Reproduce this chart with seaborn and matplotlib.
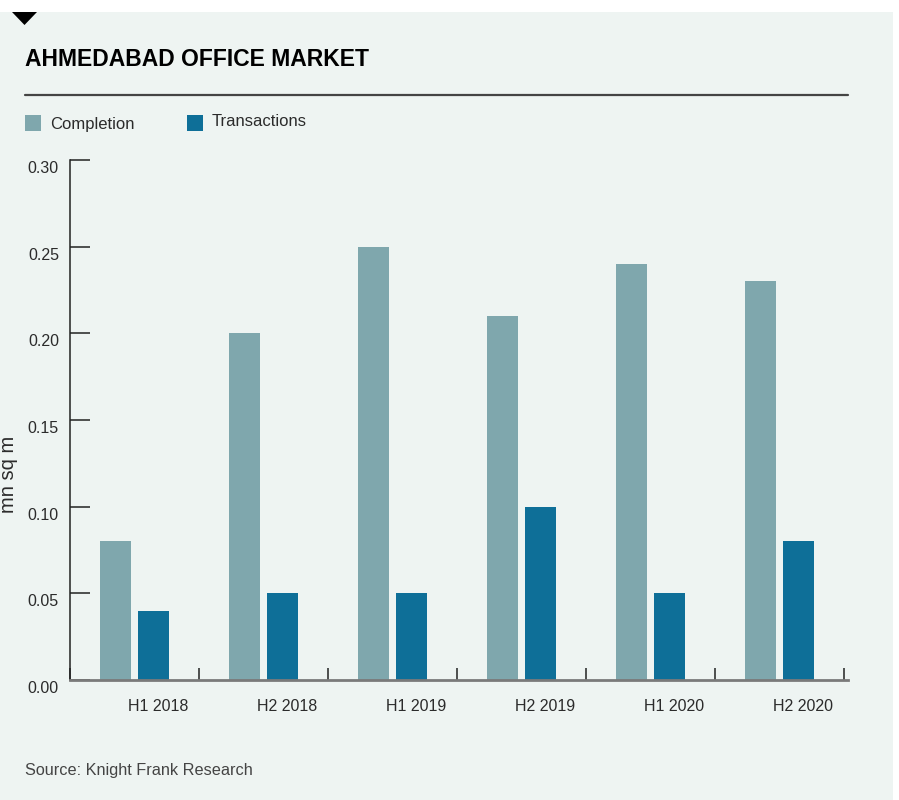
import matplotlib
matplotlib.use("Agg")
import matplotlib.pyplot as plt
from matplotlib.patches import Rectangle, Polygon
from matplotlib.lines import Line2D
import matplotlib.transforms as mtransforms
import seaborn as sns
import pandas as pd
import numpy as np

# Half-yearly office market figures (mn sq m)
periods = ["H1 2018", "H2 2018", "H1 2019", "H2 2019", "H1 2020", "H2 2020"]
completion = [0.08, 0.20, 0.25, 0.21, 0.24, 0.23]
transactions = [0.04, 0.05, 0.05, 0.10, 0.05, 0.08]
series_names = ["Completion", "Transactions"]
y_ticks = [0.00, 0.05, 0.10, 0.15, 0.20, 0.25, 0.30]

COL_COMPLETION = "#7FA7AD"
COL_TRANSACTIONS = "#0E6F98"
PANEL = "#EEF4F2"
TEXT = "#2b2b2b"

df = pd.DataFrame({
    "period": periods * 2,
    "series": [series_names[0]] * len(periods) + [series_names[1]] * len(periods),
    "value": completion + transactions,
})

sns.set_theme(style="white")
plt.rcParams["font.family"] = ["Liberation Sans", "DejaVu Sans"]

W, H = 899, 800
fig = plt.figure(figsize=(W / 100, H / 100), dpi=100)
fig.patch.set_facecolor("white")

def fx(px):
    return px / W

def fy(py):
    return 1 - py / H

# light panel behind everything
fig.patches.append(Rectangle((0, 0), fx(893), fy(12), transform=fig.transFigure,
                             facecolor=PANEL, edgecolor="none", zorder=-10))
# small marker triangle at top-left
fig.patches.append(Polygon([(fx(12), fy(12)), (fx(37), fy(12)), (fx(24.5), fy(25))],
                           closed=True, transform=fig.transFigure,
                           facecolor="black", edgecolor="none", zorder=1))

ax = fig.add_axes([fx(70), fy(680), fx(848) - fx(70), fy(160) - fy(680)])
ax.set_facecolor("none")

sns.barplot(data=df, x="period", y="value", hue="series", order=periods,
            hue_order=series_names, palette=[COL_COMPLETION, COL_TRANSACTIONS],
            width=0.6, gap=0.2, saturation=1, legend=False, ax=ax, zorder=2,
            linewidth=0, edgecolor="none")

ax.set_ylim(0, 0.30)
ax.set_xlim(-0.5, 5.53)
ax.set_xlabel("")
ax.set_ylabel("")

# y axis: inward ticks, labels sitting slightly below their ticks
ax.set_yticks(y_ticks)
ax.set_yticklabels([f"{t:.2f}" for t in y_ticks], color=TEXT, fontsize=11.5)
ax.tick_params(axis="y", direction="in", length=14.4, width=1.1, color="#222222",
               pad=8, left=True)
shift_down = mtransforms.ScaledTranslation(0, -7 / 100, fig.dpi_scale_trans)
for lbl in ax.get_yticklabels():
    lbl.set_transform(lbl.get_transform() + shift_down)

# x axis: boundary ticks, labels set under each group
bounds = np.arange(-0.5, len(periods), 1.0)
ax.set_xticks(bounds)
ax.set_xticklabels([""] * len(bounds))
ax.set_xticks(np.arange(len(periods)) + 0.18, minor=True)
ax.set_xticklabels(periods, minor=True, color=TEXT, fontsize=11.5)
ax.tick_params(axis="x", which="major", direction="in", length=8.6, width=1.1,
               color="#222222", bottom=True)
ax.tick_params(axis="x", which="minor", length=0, pad=14)

for side in ["top", "right"]:
    ax.spines[side].set_visible(False)
ax.spines["left"].set_color("#222222")
ax.spines["left"].set_linewidth(1.1)
ax.spines["bottom"].set_color("#7a7a7a")
ax.spines["bottom"].set_linewidth(2.0)
ax.grid(False)

# header
fig.text(fx(25), fy(60), "AHMEDABAD OFFICE MARKET", fontsize=16.5, fontweight="bold",
         color="black", ha="left", va="center")
fig.add_artist(Line2D([fx(25), fx(848)], [fy(95), fy(95)], transform=fig.transFigure,
                      color="#444444", linewidth=1.6))

# legend
for (x0, label, ty), col in zip([(25, series_names[0], 124), (187, series_names[1], 121)],
                                [COL_COMPLETION, COL_TRANSACTIONS]):
    fig.patches.append(Rectangle((fx(x0), fy(131)), fx(16), fy(115) - fy(131),
                                 transform=fig.transFigure, facecolor=col,
                                 edgecolor="none", zorder=2))
    fig.text(fx(x0 + 25), fy(ty), label, fontsize=12, color=TEXT,
             ha="left", va="center")

# axis title
fig.text(fx(8), fy(474), "mn sq m", rotation=90, fontsize=14.5, color=TEXT,
         ha="center", va="center")

# source
fig.text(fx(25), fy(770), "Source: Knight Frank Research", fontsize=11.7, color="#444444",
         ha="left", va="center")

fig.savefig("out.png", dpi=100, facecolor=fig.get_facecolor())
